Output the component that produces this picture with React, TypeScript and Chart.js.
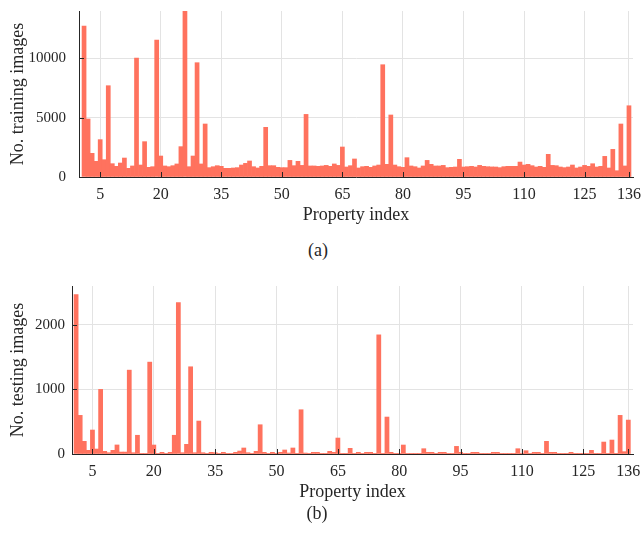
import React, { useEffect, useRef } from "react";
import { Chart, registerables } from "chart.js";

Chart.register(...registerables);

// Property indices (categories)
const propertyIndex: number[] = Array.from({ length: 136 }, (_, i) => i + 1);

// Tick labels
const xTickValues = [5, 20, 35, 50, 65, 80, 95, 110, 125, 136];
const trainYTicks = [0, 5000, 10000];
const testYTicks = [0, 1000, 2000];

// No. training images per property index
const trainingImages = [
  12730, 4890, 1995, 1320, 3150, 1460, 7700, 1124, 900, 1180,
  1600, 730, 930, 10030, 1010, 2980, 815, 870, 11550, 1770,
  930, 870, 955, 1100, 2560, 14000, 870, 1770, 9640, 1100,
  4470, 790, 870, 955, 900, 730, 730, 760, 790, 1010,
  1150, 1350, 870, 760, 900, 4190, 955, 955, 815, 790,
  790, 1400, 955, 1320, 980, 5280, 930, 930, 900, 930,
  980, 900, 1100, 980, 2530, 843, 955, 1520, 760, 870,
  900, 815, 930, 1010, 9470, 1070, 5230, 1010, 870, 815,
  1630, 930, 870, 760, 930, 1400, 1070, 930, 930, 980,
  790, 815, 843, 1490, 843, 870, 900, 843, 980, 900,
  870, 850, 843, 790, 870, 900, 900, 900, 1260, 1010,
  1070, 955, 843, 900, 815, 1910, 980, 955, 843, 790,
  843, 1010, 760, 843, 980, 900, 1120, 843, 900, 1740,
  760, 2330, 530, 4470, 930, 6010,
];

// No. testing images per property index
const testingImages = [
  2468, 598, 196, 57, 371, 77, 1000, 41, 20, 57,
  140, 30, 30, 1298, 20, 290, 5, 10, 1422, 139,
  5, 26, 10, 26, 290, 2344, 20, 150, 1350, 20,
  510, 20, 10, 26, 20, 10, 26, 5, 10, 26,
  46, 93, 20, 5, 41, 453, 26, 5, 26, 5,
  26, 62, 15, 93, 5, 685, 15, 5, 26, 26,
  5, 5, 41, 26, 247, 5, 5, 88, 10, 26,
  5, 26, 26, 5, 1844, 10, 572, 26, 5, 10,
  139, 5, 5, 5, 5, 82, 26, 26, 5, 26,
  26, 5, 5, 118, 26, 5, 5, 26, 26, 5,
  5, 5, 26, 26, 5, 5, 5, 5, 82, 10,
  51, 10, 26, 26, 5, 196, 26, 26, 5, 5,
  5, 26, 5, 5, 5, 5, 57, 5, 5, 185,
  5, 216, 5, 598, 36, 525,
];

const FONT = "'Liberation Serif', 'Times New Roman', serif";
const BAR = "rgb(255, 114, 94)";
const GRID = "#e3e3e3";
const AXIS = "#262626";

const inwardTicks = {
  id: "inwardTicks",
  afterDatasetsDraw(chart: any) {
    const { ctx, chartArea, scales } = chart;
    ctx.save();
    ctx.strokeStyle = AXIS;
    ctx.lineWidth = 1;
    ctx.beginPath();
    scales.x.ticks.forEach((t: any) => {
      const px = Math.round(scales.x.getPixelForValue(t.value)) + 0.5;
      ctx.moveTo(px, chartArea.bottom);
      ctx.lineTo(px, chartArea.bottom - 5);
    });
    scales.y.ticks.forEach((t: any) => {
      const py = Math.round(scales.y.getPixelForValue(t.value)) + 0.5;
      ctx.moveTo(chartArea.left, py);
      ctx.lineTo(chartArea.left + 5, py);
    });
    ctx.stroke();
    ctx.restore();
  },
};

type PanelProps = {
  values: number[];
  yMax: number;
  yTicks: number[];
  yTitle: string;
  xMin: number;
  xMax: number;
  top: number;
  padTop: number;
  yWidth: number;
  yTickPad: number;
};

function BarPanel(p: PanelProps) {
  const ref = useRef<HTMLCanvasElement>(null);
  useEffect(() => {
    const chart = new Chart(ref.current as HTMLCanvasElement, {
      type: "bar",
      data: {
        datasets: [
          {
            data: p.values.map((v, i) => ({ x: propertyIndex[i], y: v })),
            backgroundColor: BAR,
            borderWidth: 0,
            barPercentage: 1,
            categoryPercentage: 1,
          } as any,
        ],
      },
      options: {
        animation: false,
        responsive: false,
        devicePixelRatio: 1,
        layout: { padding: { top: p.padTop, right: 9, left: 0, bottom: 0 } },
        plugins: { legend: { display: false }, tooltip: { enabled: false } },
        scales: {
          x: {
            type: "linear",
            min: p.xMin,
            max: p.xMax,
            offset: false,
            afterBuildTicks: (s: any) => {
              s.ticks = xTickValues.map((v) => ({ value: v }));
            },
            afterFit: (s: any) => {
              s.height = 55;
              s.paddingLeft = 0;
              s.paddingRight = 0;
            },
            ticks: {
              autoSkip: false,
              maxRotation: 0,
              padding: 8,
              color: AXIS,
              font: { family: FONT, size: 16 },
              callback: (v: any) => String(v),
            },
            grid: { offset: false, drawTicks: false, color: GRID },
            border: { display: true, color: AXIS, width: 1 },
            title: {
              display: true,
              text: "Property index",
              color: AXIS,
              font: { family: FONT, size: 18 },
              padding: { top: 0, bottom: 6 },
            },
          },
          y: {
            min: 0,
            max: p.yMax,
            afterBuildTicks: (s: any) => {
              s.ticks = p.yTicks.map((v) => ({ value: v }));
            },
            afterFit: (s: any) => {
              s.width = p.yWidth;
              s.paddingTop = 0;
              s.paddingBottom = 0;
            },
            ticks: {
              padding: p.yTickPad,
              color: AXIS,
              font: { family: FONT, size: 15 },
              callback: (v: any) => String(v),
            },
            grid: { drawTicks: false, color: GRID },
            border: { display: true, color: AXIS, width: 1 },
            title: {
              display: true,
              text: p.yTitle,
              color: AXIS,
              font: { family: FONT, size: 18 },
              padding: { top: 7.5, bottom: 0 },
            },
          },
        } as any,
      },
      plugins: [inwardTicks],
    });
    return () => chart.destroy();
  }, []);
  return (
    <canvas
      ref={ref}
      width={642}
      height={232}
      style={{ position: "absolute", left: 0, top: p.top, width: 642, height: 232 }}
    />
  );
}

const captionStyle = (x: number, y: number): React.CSSProperties => ({
  position: "absolute",
  left: x,
  top: y,
  transform: "translate(-50%, -50%)",
  fontFamily: FONT,
  fontSize: 18,
  lineHeight: 1,
  color: AXIS,
  whiteSpace: "nowrap",
});

export default function App() {
  return (
    <div
      style={{
        position: "fixed",
        left: 0,
        top: 0,
        width: 642,
        height: 538,
        background: "#ffffff",
        overflow: "hidden",
      }}
    >
      <BarPanel
        values={trainingImages}
        yMax={14000}
        yTicks={trainYTicks}
        yTitle="No. training images"
        xMin={-0.25}
        xMax={137}
        top={0}
        padTop={11}
        yWidth={79}
        yTickPad={13}
      />
      <div style={captionStyle(318, 250)}>(a)</div>
      <BarPanel
        values={testingImages}
        yMax={2600}
        yTicks={testYTicks}
        yTitle="No. testing images"
        xMin={0}
        xMax={137.15}
        top={277}
        padTop={9}
        yWidth={72}
        yTickPad={7}
      />
      <div style={captionStyle(317, 513)}>(b)</div>
    </div>
  );
}
